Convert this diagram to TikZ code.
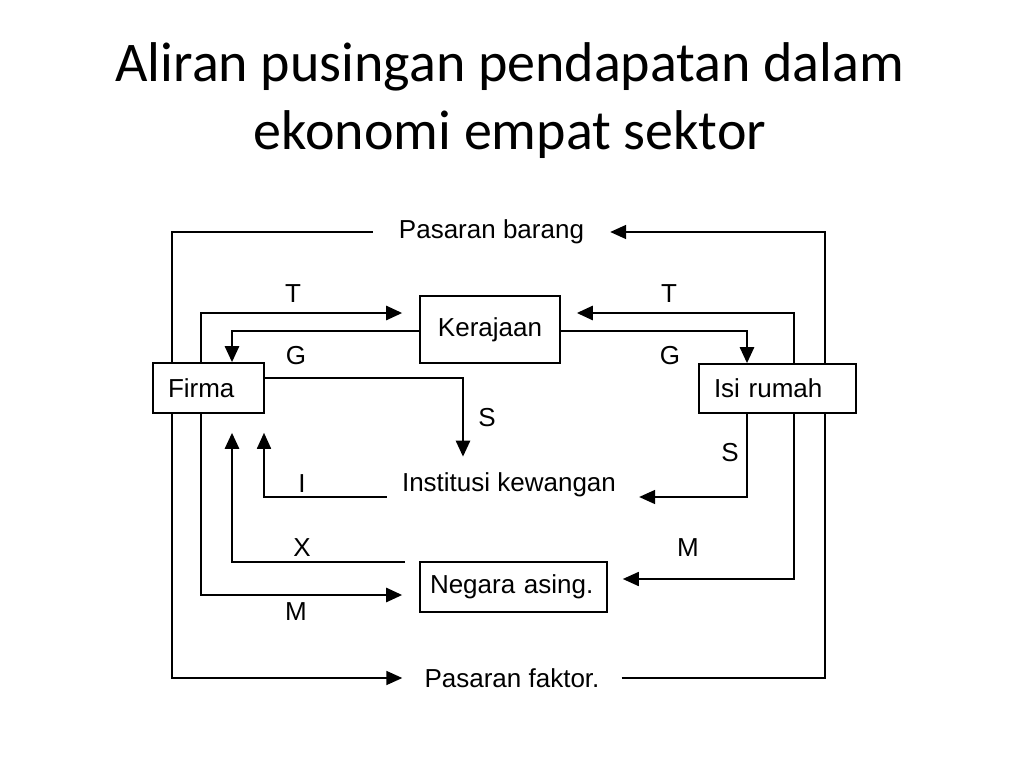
\documentclass[tikz,border=0pt]{standalone}
\usepackage{fontspec}
\setmainfont{Liberation Sans}
\newfontfamily\titlefont{Carlito}
\usetikzlibrary{arrows.meta}
\pgfdeclarelayer{background}
\pgfsetlayers{background,main}
\begin{document}
\begin{tikzpicture}[x=1pt,y=-1pt,
  txt/.style={font=\fontsize{26}{30}\selectfont, inner sep=0pt},
  box/.style={draw, line width=1.6pt, fill=white, font=\fontsize{26}{30}\selectfont, inner sep=0pt},
  thinarr/.style={line width=1.7pt, -{Triangle[length=16pt,width=14pt]}},
  arr/.style={line width=2.6pt, -{Triangle[length=16pt,width=14pt]}},
  lbl/.style={font=\fontsize{26}{30}\selectfont, inner sep=0pt}]
\path[use as bounding box] (0,0) rectangle (1020,765);
% title
\node[font=\titlefont\fontsize{56}{68}\selectfont, align=center] (title) at (510,101) {Aliran pusingan pendapatan dalam\\ekonomi empat sektor};
% boxes
\node[box, minimum width=111pt, minimum height=50pt, text width=81pt, align=left] (firma) at (208.5,388) {Firma};
\node[box, minimum width=140pt, minimum height=67pt] (keraj) at (490,329.5) {Kerajaan};
\node[box, minimum width=157pt, minimum height=49pt, text width=127pt, align=left] (isi) at (777.5,388.5) {Isi rumah};
\node[box, minimum width=187pt, minimum height=50pt, text width=167pt, align=left] (negara) at (513.5,587) {Negara asing.};
% text nodes
\node[txt, minimum width=237pt] (barang) at (491.5,232) {Pasaran barang};
\node[txt, minimum width=219pt] (faktor) at (512,678) {Pasaran faktor.};
\node[txt] (inst) at (509,485) {Institusi kewangan};
% lanes
\coordinate (xo) at (172,0);
\coordinate (xa) at (201,0);
\coordinate (xb) at (232,0);
\coordinate (xc) at (264,0);
\coordinate (xS) at (463,0);
\coordinate (xd) at (747,0);
\coordinate (xe) at (794,0);
\coordinate (xr) at (825,0);
\coordinate (yT) at (0,313);
\coordinate (yG) at (0,331);
\coordinate (yS) at (0,378);
\coordinate (yI) at (0,497);
\coordinate (yMr) at (0,579);
\coordinate (yM) at (0,595);
\coordinate (xstart) at (405,562);
\begin{pgfonlayer}{background}
% outer loop
\draw[thinarr] (barang.west) -| (faktor.west -| xo) -- (faktor.west);
\draw[thinarr] (faktor.east) -| (barang.east -| xr) -- (barang.east);
% taxes and government spending
\draw[arr, shorten >=17pt] (firma.north -| xa) |- (keraj.west |- yT);
\draw[arr, shorten >=16pt] (isi.north -| xe) |- (keraj.east |- yT);
\draw[arr] (keraj.west |- yG) -| (firma.north -| xb);
\draw[arr] (keraj.east |- yG) -| (isi.north -| xd);
% savings
\draw[arr, shorten >=16pt] (firma.east |- yS) -| (inst.north -| xS);
\draw[thinarr, shorten >=23pt] (isi.south -| xd) |- (inst.east |- yI);
% investment
\draw[thinarr, shorten <=15pt, shorten >=19pt] (inst.west |- yI) -| (firma.south -| xc);
% exports and imports
\draw[arr, shorten >=19pt] (xstart) -| (firma.south -| xb);
\draw[arr, shorten >=17pt] (firma.south -| xa) |- (negara.west |- yM);
\draw[thinarr, shorten >=15pt] (isi.south -| xe) |- (negara.east |- yMr);
\end{pgfonlayer}
% labels
\node[lbl] (lT1) at (293,294) {T};
\node[lbl] (lG1) at (296,356) {G};
\node[lbl] (lT2) at (669,294) {T};
\node[lbl] (lG2) at (670,356) {G};
\node[lbl] (lS1) at (487,418) {S};
\node[lbl] (lS2) at (730,453) {S};
\node[lbl] (lI) at (302,484) {I};
\node[lbl] (lX) at (302,548) {X};
\node[lbl] (lM2) at (688,548) {M};
\node[lbl] (lM1) at (296,612) {M};
\end{tikzpicture}
\end{document}
